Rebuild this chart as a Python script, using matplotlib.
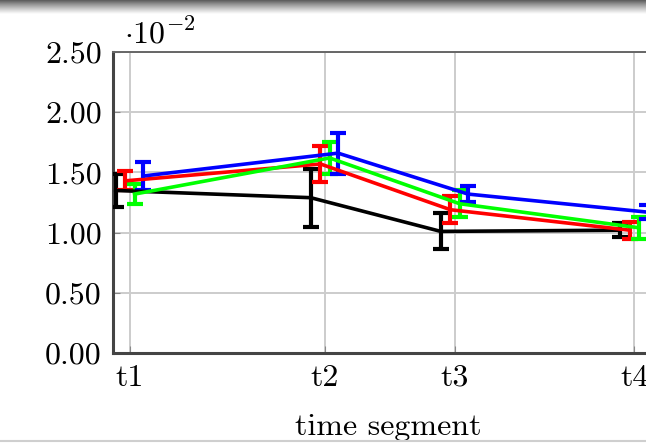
"""Error-bar line chart of four series over time segments."""
import numpy as np
import matplotlib
matplotlib.use("Agg")
import matplotlib.pyplot as plt

plt.rcParams["font.family"] = ["cmr10", "DejaVu Serif"]
plt.rcParams["mathtext.fontset"] = "cm"
plt.rcParams["axes.unicode_minus"] = False

# time segments (positions along the axis follow segment mid-times)
segments = ["t1", "t2", "t3", "t4"]
segment_time = [0.5, 2.0, 3.0, 4.38]

# values are in units of 1e-2
black_mean = [1.35, 1.29, 1.01, 1.02]
black_err = [0.14, 0.24, 0.15, 0.06]
red_mean = [1.43, 1.57, 1.19, 1.02]
red_err = [0.08, 0.15, 0.11, 0.07]
green_mean = [1.32, 1.62, 1.24, 1.04]
green_err = [0.08, 0.13, 0.11, 0.09]
blue_mean = [1.47, 1.66, 1.32, 1.17]
blue_err = [0.12, 0.17, 0.07, 0.06]

series = [
    (black_mean, black_err, "#000000", -0.11),
    (red_mean, red_err, "#ff0000", -0.035),
    (green_mean, green_err, "#00ff00", 0.035),
    (blue_mean, blue_err, "#0000ff", 0.10),
]

fig = plt.figure(figsize=(6.46, 4.44), dpi=100)

# dark gradient strip along the top edge
band = fig.add_axes([0, 1 - 14 / 444, 1, 14 / 444])
grad = np.linspace(0.22, 1.0, 64).reshape(-1, 1) ** 0.7
band.imshow(grad, cmap="gray", vmin=0, vmax=1, aspect="auto", interpolation="bilinear")
band.axis("off")

ax = fig.add_axes([113 / 646, 91 / 444, 550 / 646, 301 / 444])

x = np.array(segment_time)
for mean, err, color, shift in series:
    ax.errorbar(x + shift, mean, yerr=err, color=color, lw=2.6,
                elinewidth=3.0, capsize=5.5, capthick=3.0, zorder=3)

ax.set_xlim(0.369, 4.6)
ax.set_ylim(0, 2.5)
ax.set_xticks(segment_time)
ax.set_xticklabels(segments)
yt = np.arange(0, 2.51, 0.5)
ax.set_yticks(yt)
ax.set_yticklabels([f"{v:.2f}" for v in yt])
ax.grid(True, color="#cccccc", lw=1.4, zorder=0)
ax.tick_params(direction="in", length=5, color="#888888", labelsize=23, pad=8)
for side in ["left", "bottom"]:
    ax.spines[side].set_linewidth(2.2)
    ax.spines[side].set_color("#444444")
for side in ["top", "right"]:
    ax.spines[side].set_linewidth(1.4)
    ax.spines[side].set_color("#666666")

ax.set_xlabel("time segment", fontsize=23, labelpad=16)
ax.text(0.02, 1.01, r"$\cdot 10^{-2}$", transform=ax.transAxes,
        fontsize=23, ha="left", va="bottom")

# thin gray rule along the bottom edge
fig.add_artist(plt.Line2D([0, 1], [3 / 444, 3 / 444], color="#cfcfcf", lw=1.5))

fig.savefig("out.png", dpi=100)
